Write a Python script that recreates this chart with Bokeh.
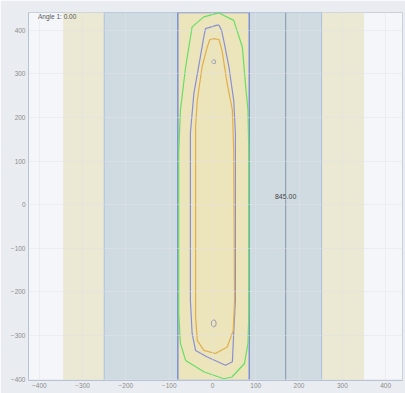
from bokeh.plotting import figure
from bokeh.models import Range1d, FixedTicker, Label, Span
from bokeh.embed import file_html
from bokeh.resources import INLINE

# Band edges (x, data units)
beige_left = [-345, -250]
blue_left = [-250, -80]
center_box = [-80, 85]
blue_right = [85, 252]
beige_right = [252, 350]
marker_x = 169
marker_label = "845.00"
angle_text = "Angle 1: 0.00"

x_ticks = [-400, -300, -200, -100, 0, 100, 200, 300, 400]
y_ticks = [-400, -300, -200, -100, 0, 100, 200, 300, 400]

# Contours
green_x = [15, 49, 69, 76, 82, 84, 84, 82, 74, 45, 26, -20, -62, -74, -78, -78, -74, -62, -47, -20, 15]
green_y = [440, 423, 362, 279, 217, 120, -250, -318, -364, -395, -399, -383, -357, -318, -250, 120, 217, 316, 408, 431, 440]

blue_x = [11, 15, 21, 26, 38, 49, 53, 53, 49, 46, 30, -12, -39, -47, -51, -51, -43, -28, -20, -16, 11]
blue_y = [412, 412, 400, 377, 316, 240, 164, -218, -295, -360, -368, -349, -334, -295, -219, 164, 255, 339, 385, 404, 412]

orange_x = [3, 15, 22, 34, 46, 49, 51, 48, 34, 7, -20, -35, -39, -39, -35, -24, -12, -6, 3]
orange_y = [381, 379, 354, 278, 217, 125, -219, -288, -326, -341, -334, -311, -257, 180, 240, 316, 362, 379, 381]

islands_x = [3, 3]
islands_y = [328, -272]
islands_w = [9, 11]
islands_h = [9, 16]

XR = (-425, 439)
YR = (-403, 441)

p = figure(width=405, height=393, output_backend="svg", toolbar_location=None,
           x_range=Range1d(*XR), y_range=Range1d(*YR),
           min_border_left=28, min_border_right=3, min_border_top=12, min_border_bottom=13)

p.background_fill_color = "#f4f6f9"
p.border_fill_color = "#e9ecf1"
p.outline_line_color = "#c9d0da"

# bands
p.quad(left=[beige_left[0], beige_right[0]], right=[beige_left[1], beige_right[1]],
       bottom=YR[0], top=YR[1], fill_color="#ebe8d3", line_color=None)
p.quad(left=[blue_left[0], blue_right[0]], right=[blue_left[1], blue_right[1]],
       bottom=YR[0], top=YR[1], fill_color="#cfdae1", line_color="#a9c2de", line_width=1)
p.quad(left=center_box[0], right=center_box[1], bottom=YR[0], top=YR[1],
       fill_color="#ece4bb", line_color="#7f8fd3", line_width=1.5)

p.xgrid.grid_line_color = "#dfe3e8"
p.ygrid.grid_line_color = "#dfe3e8"
p.xgrid.level = "overlay"
p.ygrid.level = "overlay"
p.xgrid.grid_line_alpha = 0.45
p.ygrid.grid_line_alpha = 0.45

p.line(green_x, green_y, line_color="#66df66", line_width=1.2)
p.line(blue_x, blue_y, line_color="#8a8fd2", line_width=1.2)
p.line(orange_x, orange_y, line_color="#e2ae4c", line_width=1.2)
p.ellipse(x=islands_x, y=islands_y, width=islands_w, height=islands_h,
          fill_color=None, line_color="#9a9aaa", line_width=1)

p.add_layout(Span(location=marker_x, dimension="height", line_color="#8fa2b8", line_width=1.2))
p.add_layout(Label(x=marker_x, y=18, text=marker_label, text_align="center", text_baseline="middle",
                   text_font_size="7px", text_color="#444444", background_fill_color="#cfdae1"))
p.add_layout(Label(x=-403, y=432, text=angle_text, text_align="left", text_baseline="middle",
                   text_font_size="6.5px", text_color="#555555"))

for ax in (p.xaxis[0], p.yaxis[0]):
    ax.major_label_text_font_size = "6.5px"
    ax.major_label_text_color = "#8c8c8c"
    ax.major_tick_line_color = None
    ax.minor_tick_line_color = None
    ax.major_tick_out = 0
    ax.major_tick_in = 0
    ax.minor_tick_out = 0
    ax.minor_tick_in = 0
    ax.axis_line_color = "#b7c3d3"
p.xaxis.major_label_standoff = 2
p.yaxis.major_label_standoff = 3
p.xaxis.ticker = FixedTicker(ticks=x_ticks)
p.yaxis.ticker = FixedTicker(ticks=y_ticks)

open("out.html", "w").write(file_html(p, INLINE))
